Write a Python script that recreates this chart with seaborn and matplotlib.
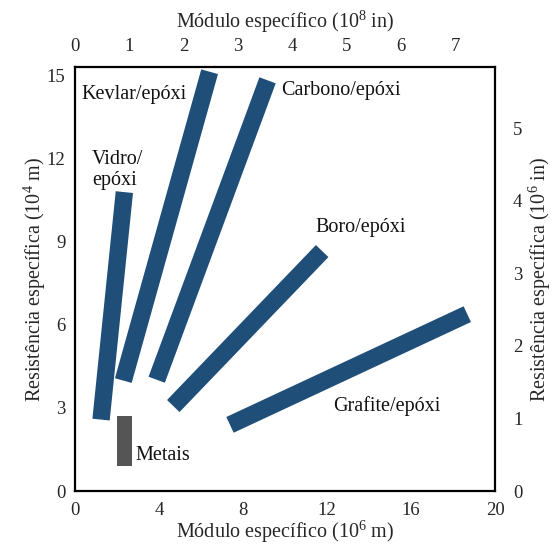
import matplotlib
matplotlib.use("Agg")
import matplotlib.pyplot as plt
import numpy as np
import pandas as pd
import seaborn as sns

# Composite material bands: end points in (specific modulus 10^6 m, specific strength 10^4 m)
materials = ["Vidro/epóxi", "Kevlar/epóxi", "Carbono/epóxi", "Boro/epóxi", "Grafite/epóxi"]
modulus_start = [1.24, 2.30, 3.89, 4.68, 7.38]
strength_start = [2.58, 3.99, 4.02, 3.07, 2.39]
modulus_end = [2.35, 6.41, 9.17, 11.77, 18.68]
strength_end = [10.80, 15.15, 14.84, 8.67, 6.39]

# Metals block (modulus range, strength range)
metal_modulus = [2.0, 2.7]
metal_strength = [0.9, 2.7]

# Axis ticks
x_ticks = [0, 4, 8, 12, 16, 20]
y_ticks = [0, 3, 6, 9, 12, 15]
top_ticks = [0, 1, 2, 3, 4, 5, 6, 7]
right_ticks = [0, 1, 2, 3, 4, 5]

# Unit conversions used by the secondary axes
M_PER_IN_X = 2.59
M_PER_IN_Y = 2.62

sns.set_theme(style="white")
plt.rcParams["font.family"] = ["Liberation Serif", "DejaVu Serif"]
plt.rcParams["mathtext.fontset"] = "custom"
plt.rcParams["mathtext.rm"] = "Liberation Serif"
plt.rcParams["mathtext.it"] = "Liberation Serif:italic"

band_color = "#1f4e79"
metal_color = "#555555"

rows = []
for m, x0, y0, x1, y1 in zip(materials, modulus_start, strength_start, modulus_end, strength_end):
    rows.append({"material": m, "modulus": x0, "strength": y0})
    rows.append({"material": m, "modulus": x1, "strength": y1})
bands = pd.DataFrame(rows)

fig = plt.figure(figsize=(5.56, 5.48), dpi=100)
ax = fig.add_axes([0.1349, 0.104, 0.7554, 0.7737])

sns.lineplot(data=bands, x="modulus", y="strength", hue="material", units="material",
             estimator=None, palette=[band_color] * len(materials), linewidth=12.5,
             solid_capstyle="butt", legend=False, ax=ax, sort=False)

ax.bar(x=(metal_modulus[0] + metal_modulus[1]) / 2,
       height=metal_strength[1] - metal_strength[0],
       bottom=metal_strength[0],
       width=metal_modulus[1] - metal_modulus[0],
       color=metal_color, linewidth=0)

ax.set_xlim(0, 20)
ax.set_ylim(0, 15.32)
ax.set_xticks(x_ticks)
ax.set_yticks(y_ticks)
ax.tick_params(axis="both", length=0, labelsize=13.5)
ax.tick_params(axis="x", pad=8)
ax.tick_params(axis="y", pad=7)
for s in ax.spines.values():
    s.set_linewidth(1.6)
    s.set_color("black")

ax.set_xlabel("Módulo específico (10$^{6}$ m)", fontsize=14.5, labelpad=0)
ax.set_ylabel("Resistência específica (10$^{4}$ m)", fontsize=14.5, labelpad=-1)

top = ax.secondary_xaxis("top", functions=(lambda v: v / M_PER_IN_X, lambda v: v * M_PER_IN_X))
top.set_xticks(top_ticks)
top.tick_params(length=0, labelsize=13.5, pad=9)
top.set_xlabel("Módulo específico (10$^{8}$ in)", fontsize=14.5, labelpad=7)

right = ax.secondary_yaxis("right", functions=(lambda v: v / M_PER_IN_Y, lambda v: v * M_PER_IN_Y))
right.set_yticks(right_ticks)
right.tick_params(length=0, labelsize=13.5, pad=13)
right.set_ylabel("Resistência específica (10$^{6}$ in)", fontsize=14.5, labelpad=3)

# Band and block labels
text_kw = dict(fontsize=14.5, ha="left", va="baseline", color="#111111")
ax.text(0.32, 14.16, "Kevlar/epóxi", **text_kw)
ax.text(9.80, 14.31, "Carbono/epóxi", **text_kw)
ax.text(0.82, 11.82, "Vidro/", **text_kw)
ax.text(0.82, 11.05, "epóxi", **text_kw)
ax.text(11.43, 9.35, "Boro/epóxi", **text_kw)
ax.text(12.27, 2.90, "Grafite/epóxi", **text_kw)
ax.text(2.90, 1.12, "Metais", **text_kw)

fig.savefig("out.png", dpi=100)
